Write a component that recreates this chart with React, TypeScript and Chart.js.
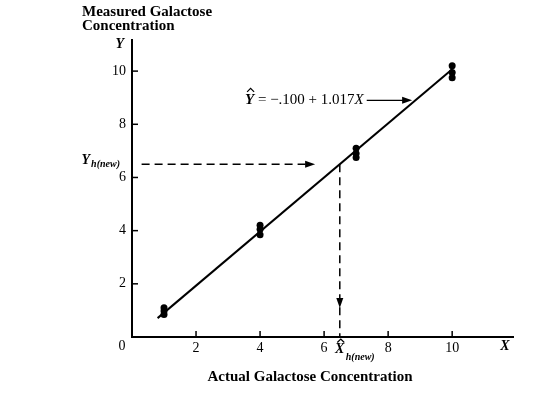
import React, { useEffect, useRef } from 'react';
import { Chart, registerables } from 'chart.js';

Chart.register(...registerables);

// Observed data (actual X vs measured Y)
const xObs = [1, 1, 1, 4, 4, 4, 7, 7, 7, 10, 10, 10];
const yObs = [1.1, 0.98, 0.85, 4.2, 4.05, 3.85, 7.1, 6.9, 6.75, 10.2, 9.95, 9.75];
// Fitted line endpoints (Ŷ = -.100 + 1.017X)
const fitX = [0.8, 10];
const fitY = [0.71, 10.07];
// Tick labels
const xTicks = [2, 4, 6, 8, 10];
const yTicks = [2, 4, 6, 8, 10];
// Inverse prediction annotation
const yNew = 6.5;
const xHatNew = 6.49;
const hLineStart = 0.3;
const hArrowTip = 5.72;
const vArrowTip = 1.09;
// Equation label
const eqLabelX = 3.53;
const eqArrowX = 8.75;
const eqArrowY = 8.9;

const SERIF = '"Liberation Serif", "Times New Roman", serif';

function arrowHead(ctx: CanvasRenderingContext2D, x: number, y: number, dir: 'right' | 'down') {
  ctx.beginPath();
  if (dir === 'right') {
    ctx.moveTo(x, y);
    ctx.lineTo(x - 10, y - 3.5);
    ctx.lineTo(x - 10, y + 3.5);
  } else {
    ctx.moveTo(x, y);
    ctx.lineTo(x - 3.5, y - 10);
    ctx.lineTo(x + 3.5, y - 10);
  }
  ctx.closePath();
  ctx.fill();
}

function hat(ctx: CanvasRenderingContext2D, cx: number, top: number) {
  ctx.save();
  ctx.setLineDash([]);
  ctx.lineWidth = 1.2;
  ctx.beginPath();
  ctx.moveTo(cx - 3.5, top + 3.5);
  ctx.lineTo(cx, top);
  ctx.lineTo(cx + 3.5, top + 3.5);
  ctx.stroke();
  ctx.restore();
}

const overlay = {
  id: 'overlay',
  afterDraw(chart: any) {
    const { ctx, chartArea: a } = chart;
    const xs = chart.scales.x;
    const ys = chart.scales.y;
    ctx.save();
    ctx.strokeStyle = '#000';
    ctx.fillStyle = '#000';

    // inside tick marks
    ctx.lineWidth = 1.5;
    yTicks.forEach((v) => {
      const p = ys.getPixelForValue(v);
      ctx.beginPath();
      ctx.moveTo(a.left, p);
      ctx.lineTo(a.left + 6, p);
      ctx.stroke();
    });
    xTicks.forEach((v) => {
      const p = xs.getPixelForValue(v);
      ctx.beginPath();
      ctx.moveTo(p, a.bottom);
      ctx.lineTo(p, a.bottom - 6);
      ctx.stroke();
    });

    // dashed guide lines
    const py = ys.getPixelForValue(yNew);
    const px = xs.getPixelForValue(xHatNew);
    ctx.setLineDash([8, 5]);
    ctx.lineWidth = 1.5;
    ctx.beginPath();
    ctx.moveTo(xs.getPixelForValue(hLineStart), py);
    ctx.lineTo(xs.getPixelForValue(hArrowTip) - 6, py);
    ctx.stroke();
    ctx.beginPath();
    ctx.moveTo(px, py);
    ctx.lineTo(px, a.bottom);
    ctx.stroke();
    ctx.setLineDash([]);
    arrowHead(ctx, xs.getPixelForValue(hArrowTip), py, 'right');
    arrowHead(ctx, px, ys.getPixelForValue(vArrowTip), 'down');

    // axis letters
    ctx.textBaseline = 'middle';
    ctx.font = `italic bold 14px ${SERIF}`;
    ctx.textAlign = 'right';
    ctx.fillText('Y', a.left - 8, a.top + 4);
    ctx.textAlign = 'center';
    ctx.fillText('X', a.right - 8, a.bottom + 9);
    ctx.font = `14px ${SERIF}`;
    ctx.fillText('0', a.left - 10, a.bottom + 9);

    // Y_h(new)
    ctx.textBaseline = 'alphabetic';
    ctx.textAlign = 'right';
    ctx.font = `italic bold 10px ${SERIF}`;
    const subW = ctx.measureText('h(new)').width;
    ctx.fillText('h(new)', a.left - 12, py + 3);
    ctx.font = `italic bold 14px ${SERIF}`;
    ctx.fillText('Y', a.left - 13 - subW, py);

    // X̂_h(new)
    ctx.textAlign = 'center';
    ctx.font = `italic bold 14px ${SERIF}`;
    ctx.fillText('X', px, a.bottom + 16);
    hat(ctx, px + 1, a.bottom + 2);
    ctx.textAlign = 'left';
    ctx.font = `italic bold 10px ${SERIF}`;
    ctx.fillText('h(new)', px + 6, a.bottom + 23);

    // equation
    const ey = ys.getPixelForValue(eqArrowY);
    let ex = xs.getPixelForValue(eqLabelX);
    ctx.textBaseline = 'middle';
    ctx.font = `italic bold 15px ${SERIF}`;
    ctx.fillText('Y', ex, ey);
    const yW = ctx.measureText('Y').width;
    hat(ctx, ex + yW / 2 + 1, ey - 12);
    ex += yW;
    ctx.font = `15px ${SERIF}`;
    const mid = ' = \u2212.100 + 1.017';
    ctx.fillText(mid, ex, ey);
    ex += ctx.measureText(mid).width;
    ctx.font = `italic 15px ${SERIF}`;
    ctx.fillText('X', ex, ey);
    ex += ctx.measureText('X').width + 3;
    ctx.lineWidth = 1.3;
    const tipX = xs.getPixelForValue(eqArrowX);
    ctx.beginPath();
    ctx.moveTo(ex, ey);
    ctx.lineTo(tipX - 6, ey);
    ctx.stroke();
    arrowHead(ctx, tipX, ey, 'right');

    // titles
    ctx.textBaseline = 'alphabetic';
    ctx.textAlign = 'left';
    ctx.font = `bold 15px ${SERIF}`;
    ctx.fillText('Measured Galactose', 82, 16);
    ctx.fillText('Concentration', 82, 30);
    ctx.textAlign = 'center';
    ctx.fillText('Actual Galactose Concentration', 310, 381);

    ctx.restore();
  },
};

export default function App() {
  const ref = useRef<HTMLCanvasElement | null>(null);
  useEffect(() => {
    if (!ref.current) return;
    const tickFont = { family: SERIF, size: 14 };
    const chart = new Chart(ref.current, {
      type: 'scatter',
      data: {
        datasets: [
          {
            label: 'fit',
            data: fitX.map((x, i) => ({ x, y: fitY[i] })),
            showLine: true,
            borderColor: '#000',
            borderWidth: 2,
            pointRadius: 0,
          },
          {
            label: 'obs',
            data: xObs.map((x, i) => ({ x, y: yObs[i] })),
            backgroundColor: '#000',
            borderWidth: 0,
            pointRadius: 3.5,
          },
        ],
      },
      options: {
        responsive: false,
        animation: false,
        layout: { padding: { top: 40, right: 44, left: 0, bottom: 0 } },
        plugins: { legend: { display: false }, tooltip: { enabled: false } },
        scales: {
          x: {
            type: 'linear',
            min: 0,
            max: 11.9,
            grid: { display: false, drawTicks: false },
            border: { display: true, color: '#000', width: 2 },
            ticks: {
              stepSize: 2,
              includeBounds: false,
              autoSkip: false,
              maxRotation: 0,
              padding: 3,
              color: '#000',
              font: tickFont,
              callback: (v: any) => (xTicks.includes(Number(v)) ? String(v) : ''),
            },
            afterFit: (s: any) => {
              s.height = 61;
            },
          },
          y: {
            type: 'linear',
            min: 0,
            max: 11.17,
            grid: { display: false, drawTicks: false },
            border: { display: true, color: '#000', width: 2 },
            ticks: {
              stepSize: 2,
              includeBounds: false,
              autoSkip: false,
              padding: 6,
              color: '#000',
              font: tickFont,
              callback: (v: any) => (yTicks.includes(Number(v)) ? String(v) : ''),
            },
            afterFit: (s: any) => {
              s.width = 132;
            },
          },
        },
      },
      plugins: [overlay],
    });
    return () => chart.destroy();
  }, []);
  return (
    <div style={{ position: 'absolute', left: 0, top: 0, width: 557, height: 398, background: '#fff' }}>
      <canvas ref={ref} width={557} height={398} />
    </div>
  );
}
